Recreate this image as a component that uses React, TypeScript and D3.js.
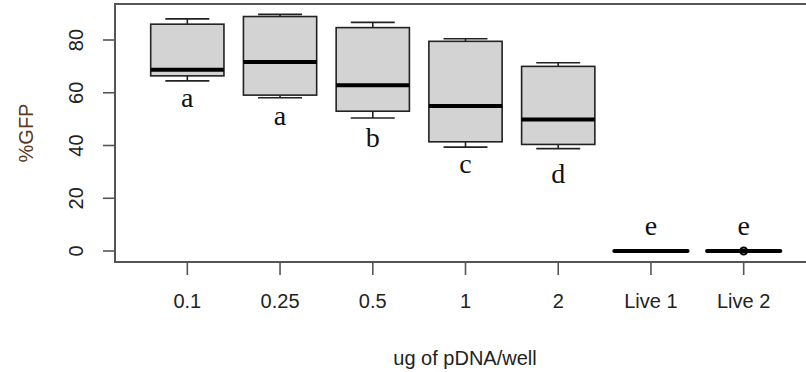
import * as d3 from "d3"

// group labels on the x axis
const groups = ["0.1", "0.25", "0.5", "1", "2", "Live 1", "Live 2"]

// five-number summaries (%GFP)
const whiskerLow = [64.5, 58.1, 50.4, 39.4, 38.8, 0, 0]
const q1 = [66.4, 59.1, 53.0, 41.4, 40.4, 0, 0]
const median = [68.7, 71.7, 62.8, 55.0, 49.9, 0, 0]
const q3 = [86.0, 88.9, 84.7, 79.5, 70.0, 0, 0]
const whiskerHigh = [88.0, 89.7, 86.7, 80.5, 71.4, 0, 0]

// outliers: [group index, value]
const outliers: [number, number][] = [[6, 0]]

// significance letters and the %GFP value of their baseline
const letters = ["a", "a", "b", "c", "d", "e", "e"]
const letterY = [54.6, 47.8, 39.4, 29.6, 25.8, 6.1, 6.1]

const yTicks = [0, 20, 40, 60, 80]

export default function App() {
  const width = 806
  const height = 372
  const plot = { left: 115, right: 816, top: 4, bottom: 262 }

  const x = d3.scaleLinear().domain([0.22, 7.78]).range([plot.left, plot.right])
  const y = d3.scaleLinear().domain([-4.17, 93.65]).range([plot.bottom, plot.top])

  const unit = x(1) - x(0)
  const boxW = unit * 0.79
  const stapleW = boxW * 0.6
  const ink = "#222"
  const sans = "'Liberation Sans', Arial, sans-serif"

  return (
    <svg
      width={width}
      height={height}
      style={{ position: "absolute", left: 0, top: 0, background: "#fff" }}
    >
      {/* boxes */}
      {groups.map((g, i) => {
        const cx = x(i + 1)
        const flat = q1[i] === q3[i]
        return (
          <g key={g}>
            {!flat && (
              <>
                <line x1={cx} x2={cx} y1={y(whiskerHigh[i])} y2={y(q3[i])} stroke={ink} strokeWidth={1.6} />
                <line x1={cx} x2={cx} y1={y(whiskerLow[i])} y2={y(q1[i])} stroke={ink} strokeWidth={1.6} />
                <line x1={cx - stapleW / 2} x2={cx + stapleW / 2} y1={y(whiskerHigh[i])} y2={y(whiskerHigh[i])} stroke={ink} strokeWidth={1.6} />
                <line x1={cx - stapleW / 2} x2={cx + stapleW / 2} y1={y(whiskerLow[i])} y2={y(whiskerLow[i])} stroke={ink} strokeWidth={1.6} />
                <rect
                  x={cx - boxW / 2}
                  y={y(q3[i])}
                  width={boxW}
                  height={y(q1[i]) - y(q3[i])}
                  fill="#d3d3d3"
                  stroke={ink}
                  strokeWidth={1.6}
                />
              </>
            )}
            <line
              x1={cx - boxW / 2}
              x2={cx + boxW / 2}
              y1={y(median[i])}
              y2={y(median[i])}
              stroke="#000"
              strokeWidth={4}
              strokeLinecap={flat ? "round" : "butt"}
            />
            <text
              x={cx}
              y={y(letterY[i])}
              textAnchor="middle"
              fontFamily="'Liberation Serif', 'Times New Roman', serif"
              fontSize={28}
              fill="#111"
            >
              {letters[i]}
            </text>
          </g>
        )
      })}

      {outliers.map(([gi, v], k) => (
        <circle key={k} cx={x(gi + 1)} cy={y(v)} r={3.5} fill="none" stroke="#000" strokeWidth={2} />
      ))}

      {/* frame */}
      <rect
        x={plot.left}
        y={plot.top}
        width={plot.right - plot.left}
        height={plot.bottom - plot.top}
        fill="none"
        stroke="#555"
        strokeWidth={2}
      />

      {/* y axis */}
      {yTicks.map((t) => (
        <g key={t}>
          <line x1={plot.left - 12} x2={plot.left} y1={y(t)} y2={y(t)} stroke="#555" strokeWidth={1.6} />
          <text
            transform={`translate(${plot.left - 39},${y(t)}) rotate(-90)`}
            textAnchor="middle"
            dominantBaseline="central"
            fontFamily={sans}
            fontSize={20}
            fill={ink}
          >
            {t}
          </text>
        </g>
      ))}

      {/* x axis */}
      {groups.map((g, i) => (
        <g key={g}>
          <line x1={x(i + 1)} x2={x(i + 1)} y1={plot.bottom} y2={plot.bottom + 13} stroke="#555" strokeWidth={1.6} />
          <text
            x={x(i + 1)}
            y={301}
            textAnchor="middle"
            dominantBaseline="central"
            fontFamily={sans}
            fontSize={20}
            fill={ink}
          >
            {g}
          </text>
        </g>
      ))}

      <text
        transform={`translate(26,${(plot.top + plot.bottom) / 2}) rotate(-90)`}
        textAnchor="middle"
        dominantBaseline="central"
        fontFamily={sans}
        fontSize={20}
        fill="#5a3a22"
      >
        %GFP
      </text>
      <text
        x={465}
        y={358}
        textAnchor="middle"
        dominantBaseline="central"
        fontFamily={sans}
        fontSize={20}
        fill={ink}
      >
        ug of pDNA/well
      </text>
    </svg>
  )
}
